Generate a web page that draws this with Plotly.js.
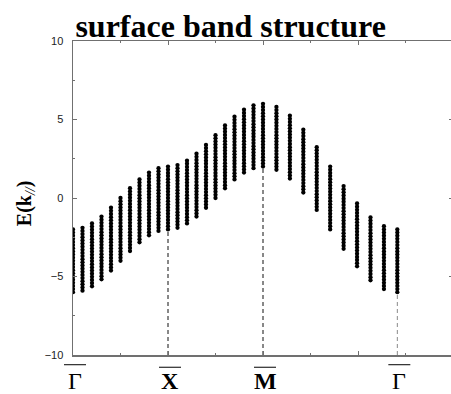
<!DOCTYPE html>
<html>
<head>
<meta charset="utf-8">
<script src="https://cdn.plot.ly/plotly-3.0.1.min.js"></script>
<style>
  html, body { margin: 0; padding: 0; background: #fff; overflow: hidden; }
  #chart { width: 454px; height: 394px; }
</style>
</head>
<body>
<div id="chart"></div>
<script>
// Path coordinate of each k-point along Γ → X → M → Γ
const kPath = [
  0.0, 0.2, 0.4, 0.6, 0.8, 1.0, 1.2, 1.4, 1.6, 1.8, 2.0,
  2.2, 2.4, 2.6, 2.8, 3.0, 3.2, 3.4, 3.6, 3.8, 4.0,
  4.283, 4.566, 4.849, 5.131, 5.414, 5.697, 5.980, 6.263, 6.546, 6.828
];

// Centre energy of each projected band column
const bandCentre = [
  -4.0, -3.9, -3.62, -3.18, -2.62, -2.0, -1.38, -0.82, -0.38, -0.1, 0.0,
  0.1, 0.38, 0.82, 1.38, 2.0, 2.62, 3.18, 3.62, 3.9, 4.0,
  3.8, 3.24, 2.35, 1.24, 0.0, -1.24, -2.35, -3.24, -3.8, -4.0
];

// Energy levels inside one column (spread over k perpendicular)
const levelOffset = [
  -2.0, -1.8, -1.6, -1.4, -1.2, -1.0, -0.8, -0.6, -0.4, -0.2, 0.0,
  0.2, 0.4, 0.6, 0.8, 1.0, 1.2, 1.4, 1.6, 1.8, 2.0
];

// High-symmetry points
const symLabels = ['Γ', 'X', 'M', 'Γ'];
const symPos = [0, 2, 4, 6.828];

const yTicks = [-10, -5, 0, 5, 10];
const kRange = [0, 8];

// Dots of every column
const dotX = [], dotY = [];
kPath.forEach((k, i) => {
  levelOffset.forEach(d => {
    dotX.push(k);
    dotY.push(bandCentre[i] + d);
  });
});

const traces = [];

// Dashed guides from the bottom axis up to the band bottom at X, M and Γ
symPos.slice(1).forEach((p, j) => {
  const idx = kPath.indexOf(p);
  const bottom = bandCentre[idx] + levelOffset[0];
  traces.push({
    x: [p, p], y: [yTicks[0], bottom],
    mode: 'lines', type: 'scatter', hoverinfo: 'skip',
    line: { color: j === 2 ? '#8a8a8a' : '#111', width: 1, dash: '4px,3px' },
    showlegend: false
  });
});

traces.push({
  x: dotX, y: dotY,
  mode: 'markers', type: 'scatter',
  marker: { color: '#000', size: 4.3, line: { width: 0 } },
  showlegend: false
});

const axisColor = '#707070';
const serif = '"Liberation Serif", "Times New Roman", serif';

const annotations = symLabels.map((lab, i) => ({
  x: symPos[i], xref: 'x',
  y: -0.036, yref: 'paper',
  yanchor: 'top', xanchor: 'center',
  xshift: 2,
  text: lab === 'Γ' ? lab : '<b>' + lab + '</b>',
  showarrow: false,
  font: { family: serif, size: 24, color: '#000' }
}));

annotations.push({
  x: -0.126, xref: 'paper', y: 0.484, yref: 'paper',
  xanchor: 'center', yanchor: 'middle',
  textangle: -90,
  text: '<b>E(k</b><sub><i>//</i></sub><b>)</b>',
  showarrow: false,
  font: { family: serif, size: 20, color: '#000' }
});

// Bars over the high-symmetry labels
const toPaperX = p => (p - kRange[0]) / (kRange[1] - kRange[0]);
const shapes = symLabels.map((lab, i) => ({
  type: 'line',
  xref: 'paper', xsizemode: 'pixel', xanchor: toPaperX(symPos[i]),
  x0: -9, x1: 13,
  yref: 'paper', y0: lab === 'Γ' ? -0.031 : -0.039, y1: lab === 'Γ' ? -0.031 : -0.039,
  line: { color: '#000', width: 1 }
}));

const layout = {
  width: 454, height: 394,
  margin: { l: 73, r: 1, t: 41, b: 39 },
  paper_bgcolor: '#fff', plot_bgcolor: '#fff',
  title: {
    text: '<b>surface band structure</b>',
    font: { family: serif, size: 32, color: '#000' },
    x: 0.508, xanchor: 'center',
    y: 0.905, yanchor: 'bottom', yref: 'container'
  },
  xaxis: {
    range: kRange, dtick: 2, tick0: 0,
    showticklabels: false,
    ticks: 'inside', ticklen: 4, tickwidth: 1, tickcolor: axisColor,
    minor: { dtick: 1, ticks: 'inside', ticklen: 2, tickcolor: axisColor },
    showline: true, linecolor: axisColor, linewidth: 1.5, mirror: 'ticks',
    showgrid: false, zeroline: false
  },
  yaxis: {
    range: [-10, 10], tickvals: yTicks,
    ticks: 'inside', ticklen: 4, tickwidth: 1, tickcolor: axisColor,
    minor: { dtick: 2.5, ticks: 'inside', ticklen: 2, tickcolor: axisColor },
    showline: true, linecolor: axisColor, linewidth: 1.5, mirror: 'ticks',
    showgrid: false, zeroline: false,
    ticklabelstandoff: 6,
    tickfont: { family: '"Liberation Sans", Arial, sans-serif', size: 11, color: '#222' }
  },
  annotations: annotations,
  shapes: shapes
};

Plotly.newPlot('chart', traces, layout, { staticPlot: true, displayModeBar: false });
</script>
</body>
</html>
